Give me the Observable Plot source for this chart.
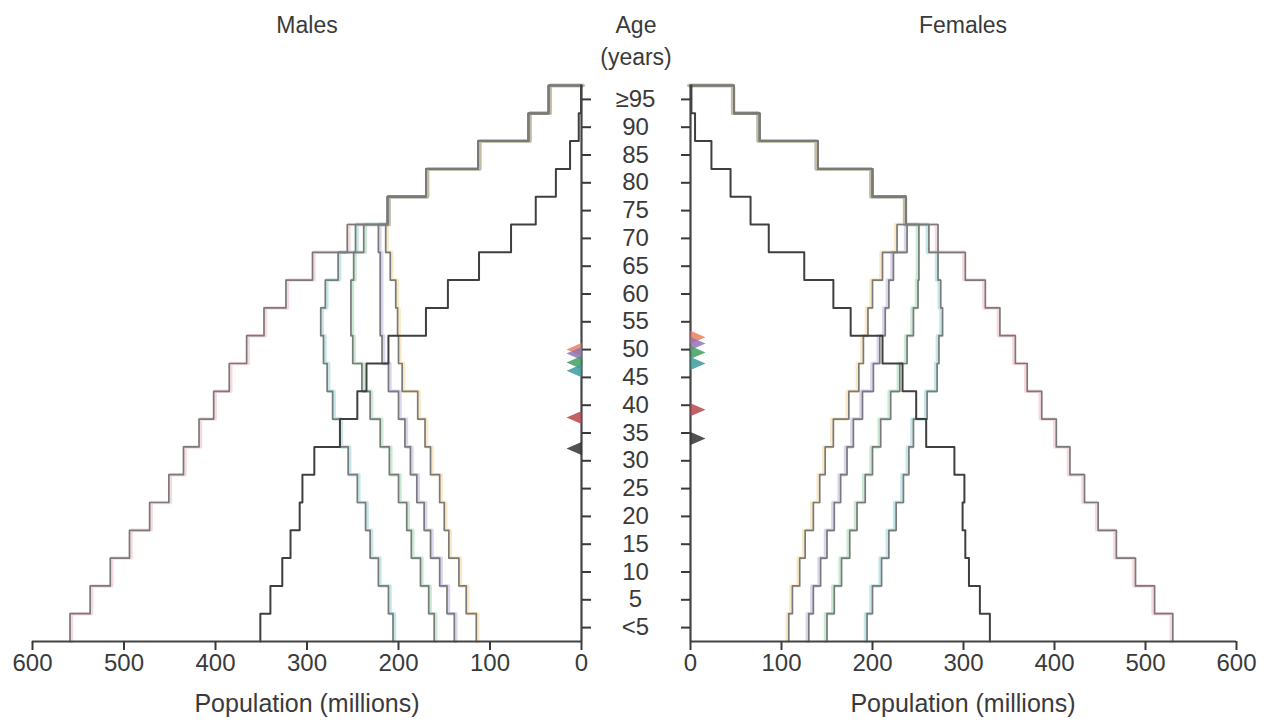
<!DOCTYPE html>
<html><head><meta charset="utf-8">
<script src="https://cdn.jsdelivr.net/npm/d3@7"></script>
<script src="https://cdn.jsdelivr.net/npm/@observablehq/plot@0.6"></script>
<style>
body{margin:0;background:#fff;}
#wrap{position:relative;width:1267px;height:724px;font-family:"Liberation Sans",Arial,sans-serif;color:#3a3a3a;overflow:hidden;background:#fff}
.t{position:absolute;font-size:23px;line-height:26px;text-align:center;white-space:nowrap;transform:translateX(-50%)}
.xl{font-size:25px}
#left{position:absolute;top:0;left:0;width:660px;height:724px}
#right{position:absolute;top:0;left:660px;width:607px;height:724px}
</style></head><body>
<div id="wrap">
 <div id="left"></div><div id="right"></div>
 <div class="t" style="left:307px;top:12px">Males</div>
 <div class="t" style="left:963px;top:12px">Females</div>
 <div class="t" style="left:636px;top:12px">Age</div>
 <div class="t" style="left:636px;top:44px">(years)</div>
 <div class="t xl" style="left:307px;top:690px">Population (millions)</div>
 <div class="t xl" style="left:963px;top:690px">Population (millions)</div>
</div>
<script>
// Age groups, bottom (<5) to top (≥95)
const ageLabels = ["<5","5","10","15","20","25","30","35","40","45","50","55","60","65","70","75","80","85","90","≥95"];
const xTicks = [0,100,200,300,400,500,600];

// Males, population in millions per age group
const males2017   = [351,340,327,318,308,305,292,264,245,235,211,170,146,112,77,50,28,12.5,3,0.5];
const malesRed    = [559,537,515,494,472,451,435,418,402,385,366,347,323,294,256,212,170,113,58,36];
const malesTeal   = [206,211,222,231,236,245,255,264,272,278,282,285,280,266,247,212,170,113,58,36];
const malesGreen  = [161,167,176,186,191,200,210,220,231,240,250,252,252,249,238,212,170,113,58,36];
const malesPurple = [139,147,155,165,172,180,187,193,200,211,218,220,220,220,222,212,170,113,58,36];
const malesOrange = [115,126,134,145,150,155,165,171,179,196,200,201,203,209,214,212,170,113,58,36];

// Females
const females2017   = [329,318,306,302,299,301,290,259,248,233,211,176,157,125,86,66,44,23,5,1];
const femalesRed    = [530,510,489,468,448,433,417,402,386,370,357,340,324,302,272,237,200,140,76,48];
const femalesTeal   = [194,200,210,218,226,234,240,245,260,271,273,277,275,272,262,237,200,140,76,48];
const femalesGreen  = [150,158,166,175,183,192,200,209,220,230,238,245,250,251,251,237,200,140,76,48];
const femalesPurple = [130,135,143,150,158,165,172,179,189,201,208,214,218,223,238,237,200,140,76,48];
const femalesOrange = [108,112,120,126,135,142,148,157,174,185,190,195,200,211,227,237,200,140,76,48];

// Median ages (years): orange, purple, green, teal, red, 2017
const medianKeys    = ["orange","purple","green","teal","red","2017"];
const medianMales   = [52.5,51.8,50.2,48.7,40.3,34.7];
const medianFemales = [54.7,53.6,52.0,50.0,41.7,36.5];

const haloColor = {red:"#eaa2ad", teal:"#6cc3c9", green:"#7ccb95", purple:"#a597d6", orange:"#f3c76e"};
const markColor = {orange:"#e9805e", purple:"#8f74b8", green:"#3f9f62", teal:"#3b9a9e", red:"#b6464f", "2017":"#333333"};

function steps(vals) {
  const pts = [];
  vals.forEach((v, i) => { pts.push({x: v, y: 5 * i}); pts.push({x: v, y: 5 * i + 5}); });
  pts.push({x: 0, y: 100});
  return pts;
}
const ageTicks = ageLabels.map((d, i) => 5 * i + 2.5);

const triLeft  = {draw(c){ c.moveTo(0,-6.5); c.lineTo(-15,0); c.lineTo(0,6.5); c.closePath(); }};
const triRight = {draw(c){ c.moveTo(0,-6.5); c.lineTo(15,0); c.lineTo(0,6.5); c.closePath(); }};

function panel(side, series, medians) {
  const isLeft = side === "left";
  const marks = [];
  for (const k of ["red","teal","green","purple","orange"]) {
    marks.push(Plot.line(steps(series[k]), {x:"x", y:"y", stroke: haloColor[k], strokeWidth: 3.5, strokeOpacity: 0.4, dx: isLeft ? 1.5 : -1.5}));
  }
  for (const k of ["red","teal","green","purple","orange"]) {
    marks.push(Plot.line(steps(series[k]), {x:"x", y:"y", stroke: "#7a7a7a", strokeWidth: 1.7}));
  }
  marks.push(Plot.line(steps(series["2017"]), {x:"x", y:"y", stroke: "#3f3f3f", strokeWidth: 2}));
  marks.push(Plot.ruleY([0], {stroke:"#444", strokeWidth: 2.2}));
  marks.push(Plot.ruleX([0], {stroke:"#444", strokeWidth: 2.2}));
  marks.push(Plot.axisX({ticks: xTicks, tickSize: 9, tickPadding: 3, fontSize: 24, strokeWidth: 2, label: null}));
  marks.push(Plot.axisY({ticks: ageTicks, anchor: isLeft ? "right" : "left", tickSize: 9, tickPadding: 45,
    textAnchor: "middle", fontSize: 24, strokeWidth: 2, label: null,
    tickFormat: isLeft ? (d => ageLabels[Math.round((d - 2.5) / 5)]) : (() => "")}));
  medianKeys.forEach((k, i) => {
    marks.push(Plot.dot([{a: 0, age: medians[i]}], {x: "a", y: "age", r: 5, fill: markColor[k], fillOpacity: 0.85,
      stroke: "none", symbol: isLeft ? triLeft : triRight}));
  });
  return Plot.plot({
    width: isLeft ? 660 : 607, height: 724,
    marginTop: 85, marginBottom: 83,
    marginLeft: isLeft ? 32 : 30, marginRight: isLeft ? 79 : 31,
    x: {domain: isLeft ? [600, 0] : [0, 600]},
    y: {domain: [0, 100]},
    style: {background: "transparent", color: "#3a3a3a", fontFamily: "Liberation Sans, Arial, sans-serif", overflow: "visible"},
    marks
  });
}

document.getElementById("left").append(panel("left",
  {"2017": males2017, red: malesRed, teal: malesTeal, green: malesGreen, purple: malesPurple, orange: malesOrange}, medianMales));
document.getElementById("right").append(panel("right",
  {"2017": females2017, red: femalesRed, teal: femalesTeal, green: femalesGreen, purple: femalesPurple, orange: femalesOrange}, medianFemales));
</script>
</body></html>
